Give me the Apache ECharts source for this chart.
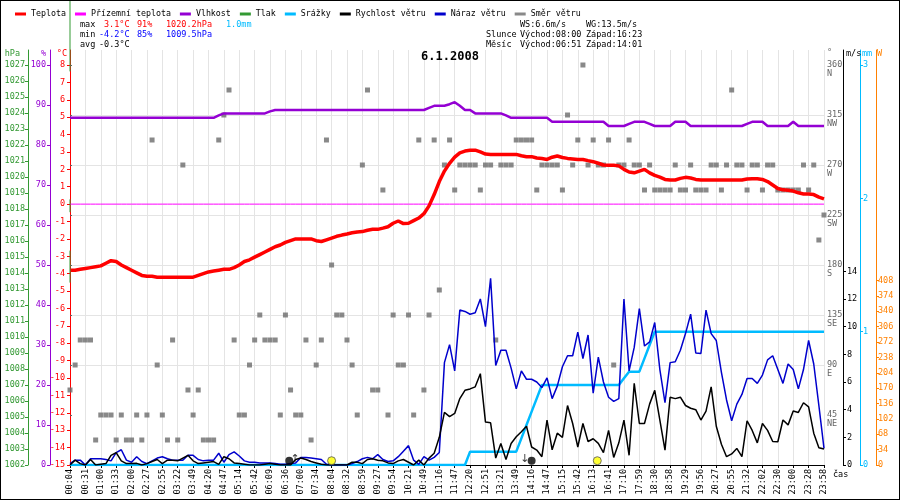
<!DOCTYPE html>
<html><head><meta charset="utf-8">
<script src="https://cdn.jsdelivr.net/npm/echarts@6/dist/echarts.min.js"></script>
<style>html,body{margin:0;padding:0;background:#fff}#c{width:900px;height:500px}#f{position:absolute;left:0;top:0;width:900px;height:500px;border:1px solid #000;box-sizing:border-box;pointer-events:none}</style>
</head><body><div id="c"></div><div id="f"></div>
<script>
const timeLabels = ['00:04','00:31','01:00','01:33','02:00','02:27','02:55','03:22','03:49','04:20',
'04:47','05:14','05:42','06:09','06:36','07:00','07:34','08:04','08:32','08:59',
'09:27','09:54','10:21','10:49','11:16','11:47','12:20','12:51','13:21','13:49',
'14:16','14:47','15:15','15:42','16:13','16:41','17:10','17:59','18:30','18:58',
'19:29','19:56','20:27','20:55','21:32','22:02','22:30','23:00','23:28','23:58'];

const temperature = [
-3.8,-3.8,-3.75,-3.7,-3.65,-3.6,-3.55,-3.4,-3.25,-3.3,
-3.5,-3.65,-3.8,-3.95,-4.1,-4.15,-4.15,-4.2,-4.2,-4.2,
-4.2,-4.2,-4.2,-4.2,-4.2,-4.1,-4.0,-3.9,-3.85,-3.8,
-3.75,-3.75,-3.65,-3.5,-3.3,-3.2,-3.05,-2.9,-2.75,-2.6,
-2.45,-2.35,-2.2,-2.1,-2.0,-2.0,-2.0,-2.0,-2.1,-2.15,
-2.05,-1.95,-1.85,-1.78,-1.72,-1.65,-1.6,-1.58,-1.5,-1.45,
-1.45,-1.38,-1.3,-1.1,-0.97,-1.12,-1.1,-0.95,-0.8,-0.55,
-0.1,0.55,1.3,1.9,2.35,2.7,2.95,3.05,3.1,3.1,
3.0,2.88,2.86,2.86,2.86,2.86,2.86,2.86,2.78,2.73,
2.73,2.65,2.62,2.57,2.7,2.77,2.68,2.63,2.6,2.57,
2.57,2.5,2.44,2.35,2.25,2.23,2.23,2.2,2.0,1.85,
1.8,1.9,2.0,1.8,1.65,1.55,1.42,1.39,1.39,1.48,
1.54,1.5,1.42,1.39,1.39,1.39,1.39,1.39,1.39,1.39,
1.39,1.39,1.45,1.46,1.46,1.42,1.3,1.1,0.9,0.82,
0.8,0.75,0.65,0.58,0.58,0.55,0.4,0.3];

const groundTemp = [
0,0,0,0,0,0,0,0,0,0,0,0,0,0,0,0,0,0,0,0,
0,0,0,0,0,0,0,0,0,0,0,0,0,0,0,0,0,0,0,0,
0,0,0,0,0,0,0,0,0,0,0,0,0,0,0,0,0,0,0,0,
0,0,0,0,0,0,0,0,0,0,0,0,0,0,0,0,0,0,0,0,
0,0,0,0,0,0,0,0,0,0,0,0,0,0,0,0,0,0,0,0,
0,0,0,0,0,0,0,0,0,0,0,0,0,0,0,0,0,0,0,0,
0,0,0,0,0,0,0,0,0,0,0,0,0,0,0,0,0,0,0,0,
0,0,0,0,0,0,0,0];

const humidity = [
86.8,86.8,86.8,86.8,86.8,86.8,86.8,86.8,86.8,86.8,
86.8,86.8,86.8,86.8,86.8,86.8,86.8,86.8,86.8,86.8,
86.8,86.8,86.8,86.8,86.8,86.8,86.8,86.8,86.8,87.4,
87.9,87.9,87.9,87.9,87.9,87.9,87.9,87.9,87.9,88.4,
88.75,88.75,88.75,88.75,88.75,88.75,88.75,88.75,88.75,88.75,
88.75,88.75,88.75,88.75,88.75,88.75,88.75,88.75,88.75,88.75,
88.75,88.75,88.75,88.75,88.75,88.75,88.75,88.75,88.75,88.75,
89.3,89.8,89.8,89.8,90.2,90.7,89.8,88.75,88.75,87.9,
87.9,87.9,87.9,87.9,87.9,87.4,86.8,86.8,86.8,86.8,
86.8,86.8,86.8,86.8,85.8,85.8,85.8,85.8,85.8,85.8,
85.8,85.8,85.8,85.8,85.8,84.75,84.75,84.75,84.75,85.3,
85.8,85.8,85.8,85.3,84.75,84.75,84.75,84.75,85.8,85.8,
85.8,84.75,84.75,84.75,84.75,84.75,84.75,84.75,84.75,84.75,
84.75,84.75,85.3,85.8,85.8,85.8,84.75,84.75,84.75,84.75,
84.75,85.8,84.75,84.75,84.75,84.75,84.75,84.75];

const windDir = [
67.5,90,112.5,112.5,112.5,22.5,45,45,45,22.5,
45,22.5,22.5,45,22.5,45,292.5,90,45,22.5,
112.5,22.5,270,67.5,45,67.5,22.5,22.5,22.5,292.5,
315,337.5,112.5,45,45,90,112.5,135,112.5,112.5,
112.5,45,135,67.5,45,45,112.5,22.5,90,112.5,
292.5,180,135,135,112.5,90,45,270,337.5,67.5,
67.5,247.5,45,135,90,90,135,45,292.5,67.5,
135,292.5,157.5,270,292.5,247.5,270,270,270,270,
247.5,270,270,112.5,270,270,270,292.5,292.5,292.5,
292.5,247.5,270,270,270,270,247.5,315,270,292.5,
360,270,292.5,270,270,292.5,90,270,270,292.5,
270,270,247.5,270,247.5,247.5,247.5,247.5,270,247.5,
247.5,270,247.5,247.5,247.5,270,270,247.5,270,337.5,
270,270,247.5,270,270,247.5,270,270,247.5,247.5,
247.5,247.5,247.5,270,247.5,270,202.5,225];

const windSpeed = [
0.0,0.35,0.1,0.0,0.4,0.0,0.05,0.1,0.7,0.9,
0.3,0.1,0.1,0.12,0.0,0.1,0.25,0.4,0.1,0.35,
0.35,0.3,0.5,0.7,0.3,0.1,0.15,0.2,0.25,0.05,
0.6,0.45,0.15,0.1,0.05,0.0,0.0,0.0,0.05,0.1,
0.05,0.0,0.0,0.0,0.4,0.5,0.4,0.25,0.15,0.05,
0.0,0.0,0.0,0.0,0.0,0.2,0.2,0.1,0.4,0.45,
0.35,0.3,0.15,0.1,0.3,0.4,0.2,0.0,0.35,0.0,
0.5,0.85,2.0,3.8,3.5,3.73,4.8,5.4,5.5,5.65,
6.6,3.1,3.05,0.5,1.56,0.4,1.56,2.04,2.4,2.8,
1.3,1.08,0.6,3.25,1.1,2.3,2.0,4.3,3.0,1.3,
3.0,1.7,1.9,1.56,0.9,2.5,0.55,1.6,3.25,0.7,
5.9,3.0,3.0,4.4,5.4,3.25,1.08,4.9,4.8,4.9,
4.3,4.1,4.0,3.25,3.9,5.65,2.8,1.5,0.6,0.8,
1.2,0.6,3.2,2.5,1.6,3.0,2.5,1.7,1.68,3.25,
2.9,3.9,3.8,4.5,4.2,2.3,1.25,1.15];

const windGust = [
0.1,0.35,0.35,0.0,0.45,0.45,0.45,0.4,0.3,0.9,
1.1,0.35,0.2,0.6,0.25,0.1,0.3,0.5,0.6,0.45,
0.35,0.35,0.35,0.7,0.7,0.4,0.3,0.35,0.35,0.85,
0.2,0.75,0.95,0.65,0.3,0.2,0.2,0.15,0.15,0.15,
0.1,0.05,0.05,0.1,0.15,0.55,0.55,0.5,0.45,0.4,
0.05,0.0,0.0,0.0,0.0,0.1,0.25,0.45,0.55,0.45,
0.75,0.4,0.25,0.3,0.6,1.0,1.4,0.35,0.05,0.6,
0.35,0.55,0.9,7.4,8.7,6.8,11.2,11.1,10.9,11.0,
12.0,10.0,13.5,7.2,8.3,8.3,7.0,5.5,6.8,6.2,
6.2,6.0,5.6,6.3,4.8,5.7,7.1,7.9,7.9,9.6,
7.7,9.4,5.2,7.8,6.0,4.9,4.6,4.8,12.0,6.8,
8.5,11.3,8.6,8.9,10.3,6.9,4.5,7.4,7.46,8.3,
9.5,10.9,8.1,8.06,11.2,9.5,9.0,6.7,4.7,3.2,
4.4,5.1,6.25,6.25,5.9,6.5,7.6,7.9,6.9,5.9,
7.3,6.9,5.5,6.9,9.0,7.3,4.3,1.2];

const rain = [
0,0,0,0,0,0,0,0,0,0,0,0,0,0,0,0,0,0,0,0,
0,0,0,0,0,0,0,0,0,0,0,0,0,0,0,0,0,0,0,0,
0,0,0,0,0,0,0,0,0,0,0,0,0,0,0,0,0,0,0,0,
0,0,0,0,0,0,0,0,0,0,0,0,0,0,0,0,0,0,
0.1,0.1,0.1,0.1,0.1,0.1,0.1,0.1,0.1,0.1,
0.2,0.3,0.4,0.5,
0.6,0.6,0.6,0.6,0.6,0.6,0.6,0.6,0.6,0.6,0.6,0.6,0.6,0.6,0.6,0.6,
0.65,0.7,0.7,0.7,0.8,0.9,
1.0,1.0,1.0,1.0,1.0,1.0,1.0,1.0,1.0,1.0,
1.0,1.0,1.0,1.0,1.0,1.0,1.0,1.0,1.0,1.0,
1.0,1.0,1.0,1.0,1.0,1.0,1.0,1.0,1.0,1.0,
1.0,1.0,1.0,1.0];

const pressureIdx = [0,0,null,0,0,null,0,0];
const pressure = [1031.1,1026.6,null,1018.6,1017.8,null,1015.4,1013.4];

const moonIdx = [42.75, 90.0];
const moonVal = [0.31, 0.31];
const sunIdx = [51.0, 102.8];
const sunVal = [0.31, 0.31];
const arrowIdx = [43.9, 88.7];
const arrowVal = [0.42, 0.42];
const arrowGlyph = ['↑', '↓'];

const tempTicks = [-15,-14,-13,-12,-11,-10,-9,-8,-7,-6,-5,-4,-3,-2,-1,0,1,2,3,4,5,6,7,8];
const humTicks = [0,10,20,30,40,50,60,70,80,90,100];
const presTicks = [1002,1003,1004,1005,1006,1007,1008,1009,1010,1011,1012,1013,1014,1015,1016,1017,1018,1019,1020,1021,1022,1023,1024,1025,1026,1027];
const dirTicks = [45,90,135,180,225,270,315,360];
const dirNames = ['NE','E','SE','S','SW','W','NW','N'];
const windTicks = [0,2,4,6,8,10,12,14];
const rainTicks = [0,1,2,3];
const powerTicks = [0,34,68,102,136,170,204,238,272,306,340,374,408];

const MONO = '"DejaVu Sans Mono", monospace';
const FS = 8.5;
const pairs = arr => arr.map((v, i) => [i, v]);

function yAx(color, ticks, pos, offset, min, max, interval, margin) {
  return {
    type: 'value', position: pos, offset: offset, min: min, max: max, interval: interval,
    splitLine: { show: false },
    axisLine: { show: true, onZero: false, lineStyle: { color: color, width: 1 } },
    axisTick: { show: true, length: 3, customValues: ticks, lineStyle: { color: color } },
    axisLabel: { color: color, fontFamily: MONO, fontSize: FS, margin: margin, customValues: ticks,
      formatter: v => ticks.indexOf(v) >= 0 ? String(v) : '' }
  };
}

const yTemp = yAx('#FF0000', tempTicks, 'left', 0, -15, 8.8625, 1, 5);
const yHum = yAx('#9400D3', humTicks, 'left', 20, 0, 103.75, 10, 4);
const yPres = yAx('#339933', presTicks, 'left', 42, 1002, 1027.9375, 1, 3);
const yDir = {
  type: 'value', position: 'right', offset: 0, min: 0, max: 373.5, interval: 45,
  axisLine: { show: false },
  axisTick: { show: true, length: 2, customValues: dirTicks, lineStyle: { color: '#666' } },
  splitLine: { show: true, showMinLine: false, showMaxLine: false, lineStyle: { color: '#e4e4e4', width: 1 } },
  axisLabel: { color: '#666', fontFamily: MONO, fontSize: FS, margin: 3, lineHeight: 9, align: 'left',
    customValues: dirTicks,
    formatter: v => { const k = dirTicks.indexOf(v); return k < 0 ? '' : '\n' + v + '\n' + dirNames[k]; } }
};
const yWind = yAx('#000000', windTicks, 'right', 19, 0, 30, 2, 4);
const yRain = yAx('#00BBFF', rainTicks, 'right', 36, 0, 3.1125, 1, 3);
const yPow = yAx('#FF8000', powerTicks, 'right', 52, 0, 918, 34, 2);

const chart = echarts.init(document.getElementById('c'), null, { renderer: 'canvas' });

const txt = (text, x, y, fill, align, font) => ({
  type: 'text', x: x, y: y, silent: true, z: 100,
  style: { text: text, fill: fill, font: font || (FS + 'px ' + MONO), align: align || 'left', verticalAlign: 'middle' }
});

const pressureData = pressure.map((v, i) => v == null ? [0, '-'] : [pressureIdx[i], v]);

chart.setOption({
  animation: false,
  backgroundColor: '#ffffff',
  textStyle: { fontFamily: MONO },
  grid: { left: 70, right: 76, top: 50, bottom: 35, containLabel: false },
  legend: {
    left: 10, top: 5, icon: 'rect', itemWidth: 11, itemHeight: 3, itemGap: 9, selectedMode: false,
    textStyle: { fontFamily: MONO, fontSize: 8.3, color: '#000' },
    data: ['Teplota', 'Přízemní teplota', 'Vlhkost', 'Tlak', 'Srážky', 'Rychlost větru', 'Náraz větru', 'Směr větru']
  },
  xAxis: {
    type: 'value', min: 0, max: 147, interval: 3,
    axisLine: { onZero: false, lineStyle: { color: '#000' } },
    axisTick: { length: 3, lineStyle: { color: '#000' } },
    splitLine: { show: true, lineStyle: { color: '#e4e4e4', width: 1 } },
    axisLabel: { rotate: 90, margin: 4, fontFamily: MONO, fontSize: FS, color: '#000',
      formatter: v => timeLabels[Math.round(v / 3)] || '' }
  },
  yAxis: [yTemp, yHum, yPres, yDir, yWind, yRain, yPow],
  graphic: [
    txt('max', 80, 24.5, '#000'), txt('3.1°C', 104, 24.5, '#FF0000'), txt('91%', 137, 24.5, '#FF0000'),
    txt('1020.2hPa', 166, 24.5, '#FF0000'), txt('1.0mm', 226, 24.5, '#00BBFF'),
    txt('min', 80, 34.5, '#000'), txt('-4.2°C', 99, 34.5, '#0000FF'), txt('85%', 137, 34.5, '#0000FF'),
    txt('1009.5hPa', 166, 34.5, '#0000FF'),
    txt('avg', 80, 44.5, '#000'), txt('-0.3°C', 99, 44.5, '#000'),
    txt('WS:6.6m/s', 520, 24.5, '#000'), txt('WG:13.5m/s', 586, 24.5, '#000'),
    txt('Slunce', 486, 34.5, '#000'), txt('Východ:08:00', 520, 34.5, '#000'), txt('Západ:16:23', 586, 34.5, '#000'),
    txt('Měsíc', 486, 44.5, '#000'), txt('Východ:06:51', 520, 44.5, '#000'), txt('Západ:14:01', 586, 44.5, '#000'),
    txt('6.1.2008', 450, 57, '#000', 'center', 'bold 12px ' + MONO),
    txt('hPa', 20, 54, '#339933', 'right'), txt('%', 46, 54, '#9400D3', 'right'), txt('°C', 67, 54, '#FF0000', 'right'),
    txt('°', 827, 53, '#666'), txt('m/s', 846, 54, '#000'), txt('mm', 862, 54, '#00BBFF'), txt('W', 877, 54, '#FF8000'),
    txt('čas', 833, 475, '#000')
  ],
  series: [
    { name: 'Směr větru', type: 'scatter', yAxisIndex: 3, symbol: 'rect', symbolSize: 5,
      itemStyle: { color: '#6b6b6b' }, data: pairs(windDir), z: 2 },
    { name: 'Přízemní teplota', type: 'line', yAxisIndex: 0, data: pairs(groundTemp), symbol: 'none', showSymbol: false,
      lineStyle: { width: 1, color: '#FF00FF' }, itemStyle: { color: '#FF00FF' }, z: 3 },
    { name: 'Srážky', type: 'line', yAxisIndex: 5, data: pairs(rain), symbol: 'none', showSymbol: false,
      lineStyle: { width: 2.5, color: '#00BBFF' }, itemStyle: { color: '#00BBFF' }, z: 3 },
    { name: 'Náraz větru', type: 'line', yAxisIndex: 4, data: pairs(windGust), symbol: 'none', showSymbol: false,
      lineStyle: { width: 1.5, color: '#0000CC' }, itemStyle: { color: '#0000CC' }, z: 4 },
    { name: 'Rychlost větru', type: 'line', yAxisIndex: 4, data: pairs(windSpeed), symbol: 'none', showSymbol: false,
      lineStyle: { width: 1.5, color: '#000000' }, itemStyle: { color: '#000000' }, z: 4 },
    { name: 'Vlhkost', type: 'line', yAxisIndex: 1, data: pairs(humidity), symbol: 'none', showSymbol: false,
      lineStyle: { width: 2.5, color: '#9400D3' }, itemStyle: { color: '#9400D3' }, z: 5 },
    { name: 'Teplota', type: 'line', yAxisIndex: 0, data: pairs(temperature), symbol: 'none', showSymbol: false,
      lineStyle: { width: 3.5, color: '#FF0000' }, itemStyle: { color: '#FF0000' }, z: 6 },
    { name: 'Tlak', type: 'line', yAxisIndex: 2, data: pressureData, symbol: 'none', showSymbol: false, clip: false,
      connectNulls: false, lineStyle: { width: 1, color: '#339933' }, itemStyle: { color: '#339933' }, z: 7 },
    { name: 'Měsíc', type: 'scatter', yAxisIndex: 4, symbol: 'circle', symbolSize: 8,
      itemStyle: { color: '#000' }, data: moonIdx.map((x, i) => [x, moonVal[i]]), z: 8 },
    { name: 'Slunce', type: 'scatter', yAxisIndex: 4, symbol: 'circle', symbolSize: 8,
      itemStyle: { color: '#FFFF00', borderColor: '#555', borderWidth: 1 }, data: sunIdx.map((x, i) => [x, sunVal[i]]), z: 8 },
    { name: 'šipky', type: 'scatter', yAxisIndex: 4, symbolSize: 1, itemStyle: { color: 'rgba(0,0,0,0)' },
      label: { show: true, position: 'inside', fontSize: 11, color: '#000', fontFamily: '"DejaVu Sans"',
        formatter: p => arrowGlyph[p.dataIndex] },
      data: arrowIdx.map((x, i) => [x, arrowVal[i]]), z: 8 }
  ]
});
</script></body></html>
